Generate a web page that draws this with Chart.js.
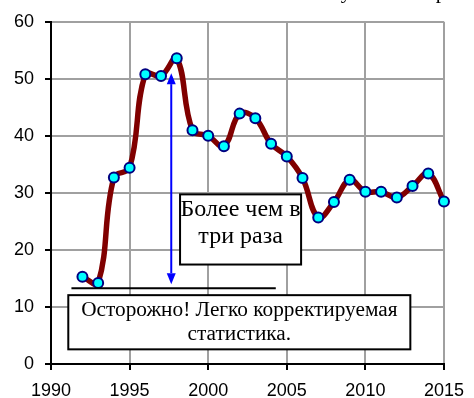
<!DOCTYPE html>
<html>
<head>
<meta charset="utf-8">
<script src="https://cdn.jsdelivr.net/npm/chart.js@4/dist/chart.umd.min.js"></script>
<style>
  html, body { margin: 0; padding: 0; background: #fff; }
  canvas { display: block; }
</style>
</head>
<body>
<canvas id="stats" width="474" height="398"></canvas>
<script>
// годы и значения ряда
const years = [1992, 1993, 1994, 1995, 1996, 1997, 1998, 1999, 2000, 2001, 2002, 2003,
               2004, 2005, 2006, 2007, 2008, 2009, 2010, 2011, 2012, 2013, 2014, 2015];
const values = [15.3, 14.2, 32.7, 34.4, 50.8, 50.5, 53.6, 41.0, 40.0, 38.2, 43.9, 43.1,
                38.6, 36.4, 32.6, 25.7, 28.4, 32.3, 30.2, 30.2, 29.2, 31.2, 33.4, 28.5];

// оси
const xTicks = [1990, 1995, 2000, 2005, 2010, 2015];
const yTicks = [0, 10, 20, 30, 40, 50, 60];

// стрелка "более чем в три раза" и базовая линия
const arrowYear = 1997.65;
const arrowFrom = 14;
const arrowTo = 51;
const baseLevel = 13.3;
const baseFrom = 1991.3;
const baseTo = 2004.3;

const noteMain = ['Осторожно! Легко корректируемая', 'статистика.'];
const noteRatio = ['Более чем в', 'три раза'];

const serif = "'Liberation Serif', 'Times New Roman', serif";

function box(ctx, x1, y1, x2, y2) {
  ctx.fillStyle = '#fff';
  ctx.fillRect(x1, y1, x2 - x1, y2 - y1);
  ctx.strokeStyle = '#000';
  ctx.lineWidth = 2;
  ctx.strokeRect(x1, y1, x2 - x1, y2 - y1);
}

const notes = {
  id: 'notes',
  afterDatasetsDraw(chart) {
    const ctx = chart.ctx;
    const xs = chart.scales.x, ys = chart.scales.y;
    ctx.save();

    // базовая линия
    ctx.strokeStyle = '#000';
    ctx.lineWidth = 2;
    ctx.beginPath();
    ctx.moveTo(xs.getPixelForValue(baseFrom), ys.getPixelForValue(baseLevel));
    ctx.lineTo(xs.getPixelForValue(baseTo), ys.getPixelForValue(baseLevel));
    ctx.stroke();

    // двусторонняя стрелка
    const ax = xs.getPixelForValue(arrowYear);
    const top = ys.getPixelForValue(arrowTo);
    const bot = ys.getPixelForValue(arrowFrom);
    const head = 11, half = 4.5;
    ctx.strokeStyle = '#0000ff';
    ctx.fillStyle = '#0000ff';
    ctx.lineWidth = 2;
    ctx.beginPath();
    ctx.moveTo(ax, top + head);
    ctx.lineTo(ax, bot - head);
    ctx.stroke();
    ctx.beginPath();
    ctx.moveTo(ax, top);
    ctx.lineTo(ax - half, top + head);
    ctx.lineTo(ax + half, top + head);
    ctx.closePath();
    ctx.fill();
    ctx.beginPath();
    ctx.moveTo(ax, bot);
    ctx.lineTo(ax - half, bot - head);
    ctx.lineTo(ax + half, bot - head);
    ctx.closePath();
    ctx.fill();

    ctx.textAlign = 'center';
    ctx.textBaseline = 'alphabetic';

    // нижняя подпись
    ctx.font = '21.3px ' + serif;
    let l = xs.getPixelForValue(1991.1), r = xs.getPixelForValue(2012.86);
    let t = ys.getPixelForValue(12.07), b = ys.getPixelForValue(2.57);
    box(ctx, l, t, r, b);
    ctx.fillStyle = '#000';
    ctx.fillText(noteMain[0], (l + r) / 2, t + 21);
    ctx.fillText(noteMain[1], (l + r) / 2, t + 45);

    // подпись у стрелки
    ctx.font = '24px ' + serif;
    l = xs.getPixelForValue(1998.21); r = xs.getPixelForValue(2005.91);
    t = ys.getPixelForValue(29.74); b = ys.getPixelForValue(17.44);
    box(ctx, l, t, r, b);
    ctx.fillStyle = '#000';
    ctx.fillText(noteRatio[0], (l + r) / 2, t + 22);
    ctx.fillText(noteRatio[1], (l + r) / 2, t + 49);

    // хвосты букв заголовка над полем
    ctx.font = '21.3px ' + serif;
    ctx.fillText('у', 346, -2);
    ctx.fillText('р', 441, -2);

    ctx.restore();
  }
};

const tickFont = { family: "'Liberation Sans', Arial, sans-serif", size: 18 };

new Chart(document.getElementById('stats'), {
  type: 'line',
  data: {
    datasets: [{
      data: years.map((y, i) => ({ x: y, y: values[i] })),
      borderColor: '#800000',
      borderWidth: 5.5,
      tension: 0.4,
      pointRadius: 5,
      pointBorderWidth: 2,
      pointBackgroundColor: '#00ffff',
      pointBorderColor: '#000080',
      clip: false
    }]
  },
  options: {
    responsive: false,
    animation: false,
    layout: { padding: { top: 21, right: 25, left: 0, bottom: 0 } },
    plugins: { legend: { display: false }, tooltip: { enabled: false } },
    scales: {
      x: {
        type: 'linear',
        min: xTicks[0],
        max: xTicks[xTicks.length - 1],
        afterBuildTicks: s => { s.ticks = xTicks.map(v => ({ value: v })); },
        afterFit: s => { s.height = 34; },
        ticks: { color: '#000', font: tickFont, padding: 10, maxRotation: 0, callback: v => String(v) },
        grid: { color: '#a0a0a0', lineWidth: 2, tickColor: '#000', tickLength: 6, tickWidth: 2 },
        border: { color: '#000', width: 2 }
      },
      y: {
        min: yTicks[0],
        max: yTicks[yTicks.length - 1],
        afterBuildTicks: s => { s.ticks = yTicks.map(v => ({ value: v })); },
        afterFit: s => { s.width = 51; },
        ticks: { color: '#000', font: tickFont, padding: 11 },
        grid: { color: '#a0a0a0', lineWidth: 2, tickColor: '#000', tickLength: 6, tickWidth: 2 },
        border: { color: '#000', width: 2 }
      }
    }
  },
  plugins: [notes]
});
</script>
</body>
</html>
